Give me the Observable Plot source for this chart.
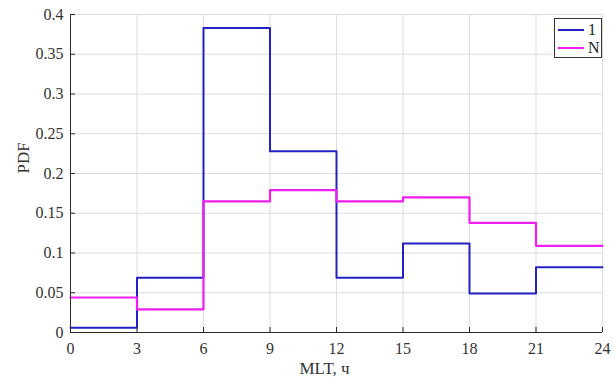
<!DOCTYPE html>
<html>
<head>
<meta charset="utf-8">
<script src="https://cdn.jsdelivr.net/npm/d3@7"></script>
<script src="https://cdn.jsdelivr.net/npm/@observablehq/plot@0.6"></script>
<style>
  html, body { margin: 0; padding: 0; background: white; }
  #wrap { position: relative; width: 615px; height: 383px; }
  #wrap svg text { font-family: "Liberation Serif", "Times New Roman", serif; }
  #legend { position: absolute; left: 554px; top: 18px; width: 46px; height: 38px;
    border: 1px solid #333; background: white; font-family: "Liberation Serif", serif; font-size: 16px; color: #222; }
  .item { position: absolute; left: 3px; height: 18px; display: flex; align-items: center; }
  .sw { width: 26px; height: 0; border-top-width: 2px; border-top-style: solid; margin-right: 4px; }
</style>
</head>
<body>
<div id="wrap"></div>
<script>
const hours = [0, 3, 6, 9, 12, 15, 18, 21];
const endHour = 24;
const series1 = [0.006, 0.069, 0.383, 0.228, 0.069, 0.112, 0.049, 0.082];
const seriesN = [0.044, 0.029, 0.165, 0.179, 0.165, 0.170, 0.138, 0.109];
const seriesNames = ["1", "N"];
const seriesColors = ["#2222c4", "#f01ef0"];
const xTicks = [0, 3, 6, 9, 12, 15, 18, 21, 24];
const yTicks = [0, 0.05, 0.1, 0.15, 0.2, 0.25, 0.3, 0.35, 0.4];
const xLabel = "MLT, ч";
const yLabel = "PDF";

function steps(vals) {
  return hours.map((h, i) => ({x: h, y: vals[i]}))
    .concat([{x: endHour, y: vals[vals.length - 1]}]);
}

const W = 615, H = 383, mL = 70, mR = 13, mT = 14, mB = 51;
const plotH = H - mT - mB, plotW = W - mL - mR;
const axisColor = "#2a2a2a";
const serif = "Liberation Serif";

const chart = Plot.plot({
  width: W, height: H,
  marginLeft: mL, marginRight: mR, marginTop: mT, marginBottom: mB,
  x: {domain: [0, 24]},
  y: {domain: [0, 0.4]},
  style: {fontFamily: serif, fontSize: "16px", color: "#333", background: "white"},
  marks: [
    Plot.gridX(xTicks, {stroke: "#dddddd", strokeOpacity: 1}),
    Plot.gridY(yTicks, {stroke: "#dddddd", strokeOpacity: 1}),
    Plot.line(steps(series1), {x: "x", y: "y", curve: "step-after", stroke: seriesColors[0], strokeWidth: 2}),
    Plot.line(steps(seriesN), {x: "x", y: "y", curve: "step-after", stroke: seriesColors[1], strokeWidth: 2.2}),
    Plot.ruleX([0], {stroke: axisColor}),
    Plot.ruleY([0], {stroke: axisColor}),
    Plot.tickX(xTicks, {x: d => d, insetTop: plotH - 5, stroke: axisColor}),
    Plot.tickY(yTicks, {y: d => d, insetRight: plotW - 5, stroke: axisColor}),
    Plot.axisX(xTicks, {tickSize: 0, tickPadding: 10, label: null, fontSize: 16, fontFamily: serif, tickFormat: d => String(d)}),
    Plot.axisY(yTicks, {tickSize: 0, tickPadding: 7, label: null, fontSize: 16, fontFamily: serif, tickFormat: d => String(+d.toFixed(2))}),
    Plot.text([xLabel], {text: d => d, frameAnchor: "bottom", dx: -12, dy: 41, fontSize: 17, fontFamily: serif, fill: "#333"}),
    Plot.text([yLabel], {text: d => d, frameAnchor: "left", dx: -47, rotate: -90, fontSize: 17, fontFamily: serif, fill: "#333"})
  ]
});

const wrap = document.getElementById("wrap");
wrap.appendChild(chart);
const legend = document.createElement("div");
legend.id = "legend";
seriesNames.forEach((name, i) => {
  const item = document.createElement("div");
  item.className = "item";
  item.style.top = (2 + i * 18) + "px";
  const sw = document.createElement("span");
  sw.className = "sw";
  sw.style.borderTopColor = seriesColors[i];
  const t = document.createElement("span");
  t.textContent = name;
  item.appendChild(sw);
  item.appendChild(t);
  legend.appendChild(item);
});
wrap.appendChild(legend);
</script>
</body>
</html>
